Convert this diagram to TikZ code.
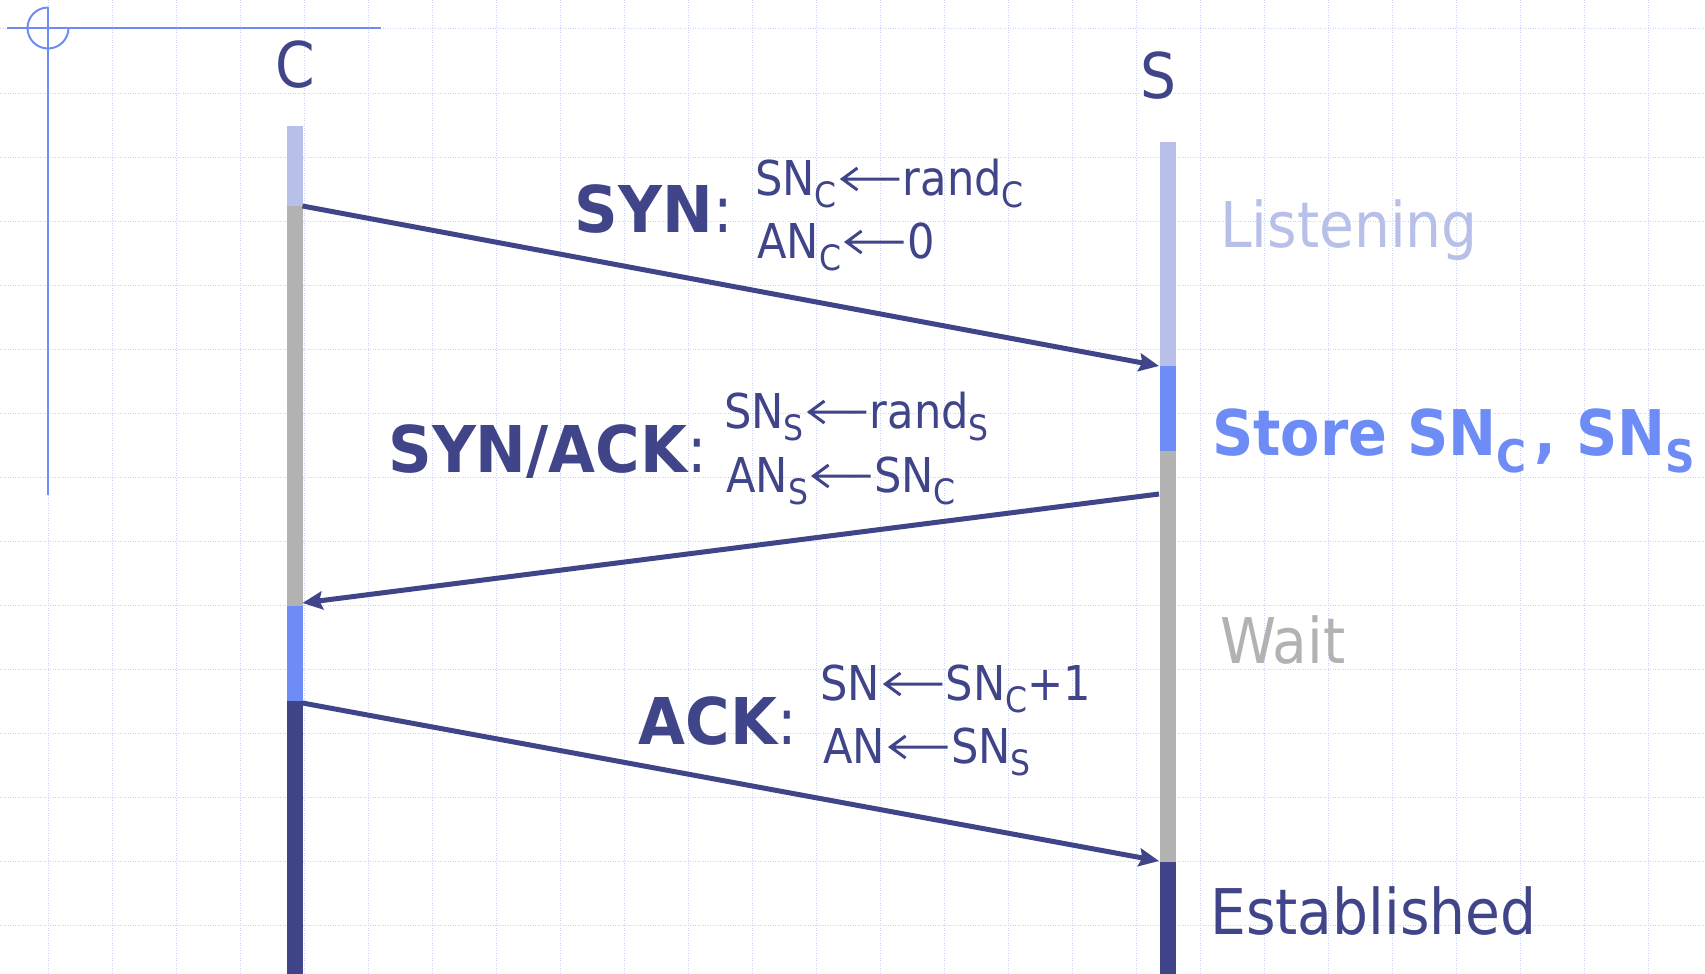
\documentclass[tikz,border=0pt]{standalone}
\usepackage{fontspec}
\setmainfont{DejaVu Sans}[FakeStretch=0.9]
\newfontfamily\boldfam{DejaVu Sans Bold}[FakeStretch=0.94]
\newfontfamily\storefam{DejaVu Sans Bold}[FakeStretch=0.91]
\usetikzlibrary{arrows.meta}
\definecolor{navy}{HTML}{404488}
\definecolor{sblue}{HTML}{6E8CF5}
\definecolor{lav}{HTML}{B8C0EA}
\definecolor{lgrey}{HTML}{B2B2B2}
\definecolor{gridc}{HTML}{C9D3F5}
\newcommand\fs[1]{\fontsize{#1}{#1}\selectfont}
\newcommand\sbc[1]{\raisebox{-12pt}{\fs{35}#1}}
\newcommand\sbb[1]{\raisebox{-17pt}{\fs{45}\storefam #1}}
\newcommand\larr{\hspace{3pt}\tikz[baseline=0pt]\draw[navy,line width=3pt,line join=miter] (0pt,16pt) -- (58pt,16pt) (16pt,27pt) -- (1pt,16pt) -- (16pt,5pt);\hspace{2pt}}
\tikzset{
  gridline/.style={gridc, line width=1pt, dash pattern=on 1pt off 1.5pt},
  axisline/.style={sblue, line width=2pt},
  msg/.style={navy, line width=5pt, -{Stealth[length=20pt,width=18pt,inset=3pt]}},
  hdr/.style={font=\fs{63}, text=navy, inner sep=0pt, anchor=base},
  state/.style={font=\fs{63}, inner sep=0pt, anchor=base west},
  lbl/.style={font=\fs{64.5}, text=navy, inner sep=0pt, anchor=base east},
  form/.style={font=\fs{48}, text=navy, inner sep=0pt, anchor=base west}
}
\begin{document}
\begin{tikzpicture}[x=1pt,y=-1pt]
\useasboundingbox (0,0) rectangle (1705,974);
\fill[white] (0,0) rectangle (1705,974);
% grid
\foreach \gx in {48,112,...,1680} \draw[gridline] (\gx,0) -- (\gx,974);
\foreach \gy in {29,93,...,925} \draw[gridline] (0,\gy) -- (1705,\gy);
% top-left mark
\draw[axisline] (7,28) -- (381,28);
\draw[axisline] (48,7) -- (48,495);
\draw[axisline] (68.5,28) arc[start angle=0, end angle=270, radius=20.5];
% lifeline C
\fill[lav]   (286.5,126) rectangle (302.5,206);
\fill[lgrey] (286.5,206) rectangle (302.5,606);
\fill[sblue] (286.5,606) rectangle (302.5,701);
\fill[navy]  (286.5,701) rectangle (302.5,974);
% lifeline S
\fill[lav]   (1159.5,142) rectangle (1175.5,366);
\fill[sblue] (1159.5,366) rectangle (1175.5,451);
\fill[lgrey] (1159.5,451) rectangle (1175.5,862);
\fill[navy]  (1159.5,862) rectangle (1175.5,974);
% message endpoints
\coordinate (c1) at (302.5,206);
\coordinate (s1) at (1159,366);
\coordinate (s2) at (1159,494);
\coordinate (c2) at (302.5,603);
\coordinate (c3) at (302.5,703);
\coordinate (s3) at (1159,861);
\draw[msg] (c1) -- (s1);
\draw[msg] (s2) -- (c2);
\draw[msg] (c3) -- (s3);
% headers
\node[hdr] (C) at (295,88) {C};
\node[hdr] (S) at (1158,99) {S};
% states
\node[state, text=lav] (listen) at (1220,247) {Listening};
\node[state, text=sblue] (store) at (1212,455) {\storefam Store SN\sbb{C}\hspace{8pt}, SN\sbb{S}};
\node[state, text=lgrey] (wait) at (1220,663) {Wait};
\node[state, text=navy] (est) at (1210,934) {Established};
% labels
\node[lbl] (synl) at (733,232) {{\boldfam SYN}:};
\node[lbl] (synackl) at (707,472) {{\boldfam SYN/ACK}:};
\node[lbl] (ackl) at (797,744) {{\boldfam ACK}:};
% formulas
\node[form] (f1a) at (755,195) {SN\sbc{C}\larr rand\sbc{C}};
\node[form] (f1b) at (757,258) {AN\sbc{C}\larr 0};
\node[form] (f2a) at (724,428) {SN\sbc{S}\larr rand\sbc{S}};
\node[form] (f2b) at (726,492) {AN\sbc{S}\larr SN\sbc{C}};
\node[form] (f3a) at (820,700) {SN\larr SN\sbc{C}+1};
\node[form] (f3b) at (823,763) {AN\larr SN\sbc{S}};
\end{tikzpicture}
\end{document}
